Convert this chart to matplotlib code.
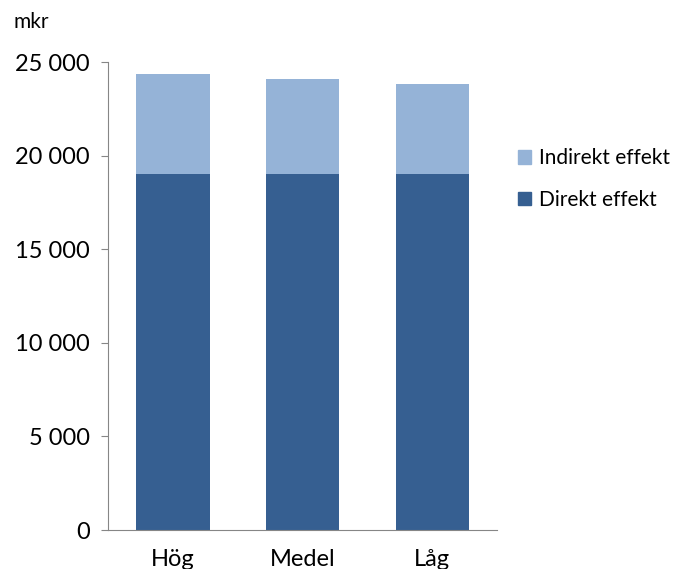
import matplotlib.pyplot as plt
from matplotlib.ticker import FuncFormatter
from matplotlib.patches import Patch

plt.rcParams['font.family'] = ['Lato', 'DejaVu Sans']

# scenario categories and effects (mkr)
scenarios = ['Hög', 'Medel', 'Låg']
direkt = [19000, 19000, 19000]
indirekt = [5350, 5100, 4850]

dark = '#365F91'
light = '#95B3D7'
axis_grey = '#868686'

fig = plt.figure(figsize=(6.77, 5.69), dpi=100)
ax = fig.add_axes([0.1595, 0.0685, 0.575, 0.8225])

x = range(len(scenarios))
ax.bar(x, direkt, width=0.565, color=dark)
ax.bar(x, indirekt, width=0.565, bottom=direkt, color=light)

ax.set_xlim(-0.5, 2.5)
ax.set_ylim(0, 25000)
ax.set_yticks(range(0, 25001, 5000))
ax.yaxis.set_major_formatter(FuncFormatter(lambda v, p: f'{int(v):,}'.replace(',', ' ')))
ax.set_xticks(list(x))
ax.set_xticklabels(scenarios)

for s in ['top', 'right']:
    ax.spines[s].set_visible(False)
for s in ['left', 'bottom']:
    ax.spines[s].set_color(axis_grey)
ax.tick_params(axis='y', colors=axis_grey, labelcolor='black', labelsize=17, length=5, pad=8)
ax.tick_params(axis='x', length=0, labelsize=17, pad=14)

fig.text(0.02, 0.962, 'mkr', fontsize=15, va='center', ha='left')

handles = [Patch(color=light, label='Indirekt effekt'),
           Patch(color=dark, label='Direkt effekt')]
fig.legend(handles=handles, loc='center left', bbox_to_anchor=(0.738, 0.685),
           frameon=False, fontsize=15, handlelength=0.6, handleheight=0.6,
           handletextpad=0.4, labelspacing=1.05)

fig.savefig('out.png', dpi=100)
